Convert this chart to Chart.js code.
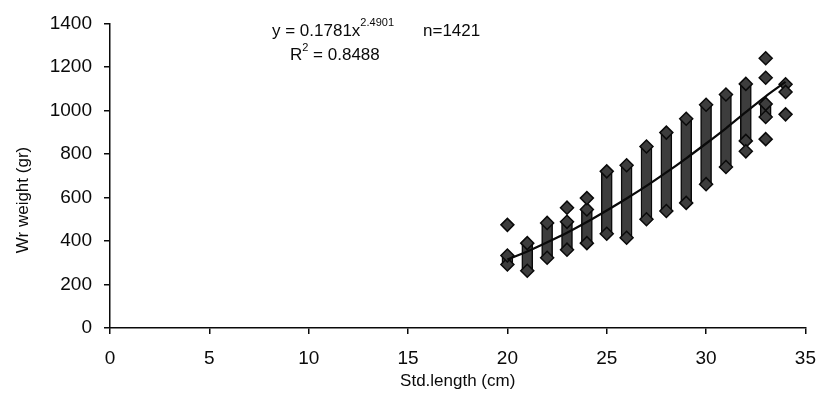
<!DOCTYPE html>
<html>
<head>
<meta charset="utf-8">
<script src="https://cdn.jsdelivr.net/npm/chart.js@4.4.1/dist/chart.umd.min.js"></script>
<style>
  html, body { margin: 0; padding: 0; background: #fff; }
  #wrap { width: 829px; height: 400px; position: relative; }
</style>
</head>
<body>
<div id="wrap"><canvas id="chart"></canvas></div>
<script>
// standard length classes (cm)
const lengths = [20, 21, 22, 23, 24, 25, 26, 27, 28, 29, 30, 31, 32, 33, 34];
// spread of weights in each length class (null = no solid column)
const weightLow  = [292, 263, 323, 360, 390, 433, 415, 500, 538, 575, 661, 740, 860, 970, null];
const weightHigh = [333, 390, 483, 488, 545, 720, 748, 834, 898, 962, 1026, 1073, 1122, 1030, null];
// isolated fish outside the solid columns
const extraX = [20, 23, 24, 32, 33, 33, 33, 34, 34, 34];
const extraY = [474, 553, 597, 812, 1240, 1150, 868, 1120, 1085, 982];
// fitted power curve as drawn
const trendY = [315, 352, 394, 438, 487, 540, 595, 653, 715, 780, 848, 918, 992, 1065, 1131];

const yTicks = [0, 200, 400, 600, 800, 1000, 1200, 1400];
const xTicks = [0, 5, 10, 15, 20, 25, 30, 35];

const FONT = "'Liberation Sans', Arial, sans-serif";
const INK = '#0a0a0a';
const FILL = '#3d3d3d';

const columns = [];
const points = [];
lengths.forEach((x, i) => {
    if (weightLow[i] == null) return;
    columns.push({ x: x, y: [weightLow[i], weightHigh[i]] });
    points.push({ x: x, y: weightLow[i] });
    points.push({ x: x, y: weightHigh[i] });
});
extraX.forEach((x, i) => points.push({ x: x, y: extraY[i] }));
const trend = lengths.map((x, i) => ({ x: x, y: trendY[i] }));

// equation text and rotated y title
const annotations = {
    id: 'annotations',
    afterDraw(chart) {
        const ctx = chart.ctx;
        ctx.save();
        ctx.fillStyle = INK;
        ctx.textBaseline = 'alphabetic';
        ctx.textAlign = 'left';

        ctx.font = '17px ' + FONT;
        let x = 272;
        const t1 = 'y = 0.1781x';
        ctx.fillText(t1, x, 36);
        x += ctx.measureText(t1).width;
        ctx.font = '11px ' + FONT;
        ctx.fillText('2.4901', x, 26);
        ctx.font = '17px ' + FONT;
        ctx.fillText('n=1421', 423, 36);

        x = 290;
        ctx.fillText('R', x, 60);
        x += ctx.measureText('R').width;
        ctx.font = '11px ' + FONT;
        ctx.fillText('2', x, 51);
        x += ctx.measureText('2').width;
        ctx.font = '17px ' + FONT;
        ctx.fillText(' = 0.8488', x, 60);

        ctx.translate(23, 200);
        ctx.rotate(-Math.PI / 2);
        ctx.textAlign = 'center';
        ctx.textBaseline = 'middle';
        ctx.font = '17px ' + FONT;
        ctx.fillText('Wr weight (gr)', 0, 0);
        ctx.restore();
    }
};

new Chart(document.getElementById('chart'), {
    type: 'bar',
    data: {
        datasets: [
            {
                type: 'line',
                data: trend,
                borderColor: INK,
                borderWidth: 2.2,
                pointRadius: 0,
                tension: 0.3,
                order: 0
            },
            {
                type: 'scatter',
                data: points,
                pointStyle: 'rectRot',
                pointRadius: 6.5,
                backgroundColor: FILL,
                borderColor: INK,
                borderWidth: 1.5,
                order: 1
            },
            {
                type: 'bar',
                data: columns,
                backgroundColor: FILL,
                borderColor: INK,
                borderWidth: 1.5,
                borderSkipped: false,
                barThickness: 11,
                order: 2
            }
        ]
    },
    options: {
        responsive: true,
        maintainAspectRatio: false,
        animation: false,
        layout: { padding: { top: 21, right: 13, left: 0, bottom: 0 } },
        plugins: {
            legend: { display: false },
            tooltip: { enabled: false }
        },
        scales: {
            x: {
                type: 'linear',
                min: 0,
                max: 35,
                offset: false,
                afterFit: (scale) => { scale.height = 72; },
                afterBuildTicks: (scale) => { scale.ticks = xTicks.map(v => ({ value: v })); },
                border: { display: true, color: INK, width: 1.5 },
                grid: { offset: false, drawOnChartArea: false, drawTicks: true, tickLength: 6, color: INK, lineWidth: 1.5 },
                ticks: { color: INK, font: { family: FONT, size: 19 }, padding: 13, maxRotation: 0, callback: v => String(v) },
                title: {
                    display: true,
                    text: 'Std.length (cm)',
                    color: INK,
                    font: { family: FONT, size: 17 },
                    padding: { top: 0, bottom: 8 }
                }
            },
            y: {
                type: 'linear',
                min: 0,
                max: 1400,
                afterFit: (scale) => { scale.width = 110; },
                afterBuildTicks: (scale) => { scale.ticks = yTicks.map(v => ({ value: v })); },
                border: { display: true, color: INK, width: 1.5 },
                grid: { offset: false, drawOnChartArea: false, drawTicks: true, tickLength: 6, color: INK, lineWidth: 1.5 },
                ticks: { color: INK, font: { family: FONT, size: 19 }, padding: 12, callback: v => String(v) }
            }
        }
    },
    plugins: [annotations]
});
</script>
</body>
</html>
